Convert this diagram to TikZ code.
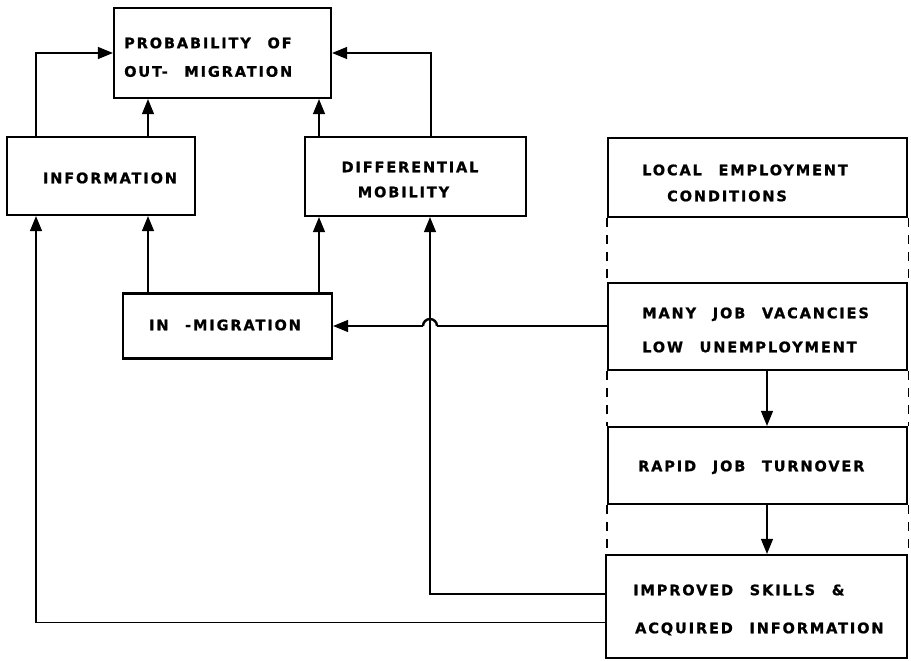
\documentclass[tikz,border=0pt]{standalone}
\usepackage{fontspec}
\usetikzlibrary{arrows.meta,calc}
\newfontfamily\lblfont{DejaVu Sans}[UprightFont={* Bold},LetterSpace=13,WordSpace=2.4,FakeBold=1]
\begin{document}
\begin{tikzpicture}[x=1pt,y=-1pt,
  box/.style={draw, line width=2.2pt, inner sep=0pt},
  txt/.style={font=\lblfont\fontsize{14.5}{16}\selectfont, inner sep=0pt, text height=10.5pt, text depth=0pt},
  arr/.style={draw, line width=1.3pt, -{Triangle[length=15pt,width=12pt]}},
  conn/.style={draw, line width=1.3pt},
  hop/.style={draw, line width=2.4pt},
  dsh/.style={draw, line width=1.2pt, dash pattern=on 9pt off 8pt}]
\useasboundingbox (0,0) rectangle (911,661);
% boxes
\node[box, minimum width=217pt, minimum height=90pt] (prob) at (222.5,53) {};
\node[box, minimum width=188pt, minimum height=78pt] (info) at (101,176) {};
\node[box, minimum width=221pt, minimum height=79pt] (diff) at (415.5,176.5) {};
\node[box, minimum width=209pt, minimum height=65pt] (inmig) at (227.5,326) {};
\node[box, minimum width=299pt, minimum height=79pt] (local) at (757.5,177.5) {};
\node[box, minimum width=299pt, minimum height=87pt] (many) at (757.5,326.5) {};
\node[box, minimum width=299pt, minimum height=77pt] (rapid) at (757.5,465.5) {};
\node[box, minimum width=301pt, minimum height=103pt] (impr) at (756.5,606.5) {};
% texts
\node[txt, anchor=west] (t1) at (124,43) {PROBABILITY OF};
\node[txt, anchor=west] (t2) at (124,71.5) {OUT- MIGRATION};
\node[txt] (t3) at (110,178) {INFORMATION};
\node[txt] (t4) at (410,167) {DIFFERENTIAL};
\node[txt] (t5) at (403.5,192) {MOBILITY};
\node[txt] (t6) at (225,325) {IN -MIGRATION};
\node[txt, anchor=west] (t7) at (642,170) {LOCAL EMPLOYMENT};
\node[txt, anchor=west] (t8) at (667,196) {CONDITIONS};
\node[txt, anchor=west] (t9) at (642,313) {MANY JOB VACANCIES};
\node[txt, anchor=west] (t10) at (642,347) {LOW UNEMPLOYMENT};
\node[txt, anchor=west] (t11) at (638,466) {RAPID JOB TURNOVER};
\node[txt, anchor=west] (t12) at (633,590) {IMPROVED SKILLS \&};
\node[txt, anchor=west] (t13) at (635,628) {ACQUIRED INFORMATION};
% column coordinates
\coordinate (cA) at (36,0);
\coordinate (cB) at (148,0);
\coordinate (cC) at (319,0);
\coordinate (cD) at (431,0);
\coordinate (cE) at (767,0);
\coordinate (hopR) at (437,326);
% connectors
\draw[arr] (cA |- info.north) |- (prob.west);
\draw[arr] (cB |- info.north) -- (cB |- prob.south);
\draw[arr] (cC |- diff.north) -- (cC |- prob.south);
\draw[arr] (cD |- diff.north) |- (prob.east);
\draw[arr] (cB |- inmig.north) -- (cB |- info.south);
\draw[arr] (cC |- inmig.north) -- (cC |- diff.south);
\draw[arr] ($(impr.west)+(0,-12.5)$) -| ($(diff.south)+(14.5,0)$);
\draw[arr] ($(impr.west)+(0,16)$) -| (cA |- info.south);
\draw[conn] (many.west |- inmig.east) -- (hopR);
\draw[hop] (hopR) arc[start angle=0, end angle=180, radius=7pt];
\draw[arr] ($(hopR)+(-14,0)$) -- (inmig.east);
\draw[arr] (cE |- many.south) -- (cE |- rapid.north);
\draw[arr] (cE |- rapid.south) -- (cE |- impr.north);
% dashed frame
\draw[dsh] (local.south west) -- (many.north west);
\draw[dsh] (local.south east) -- (many.north east);
\draw[dsh] (many.south west) -- (rapid.north west);
\draw[dsh] (many.south east) -- (rapid.north east);
\draw[dsh] (rapid.south west) -- (rapid.south west |- impr.north);
\draw[dsh] (rapid.south east) -- (impr.north east);
\end{tikzpicture}
\end{document}
